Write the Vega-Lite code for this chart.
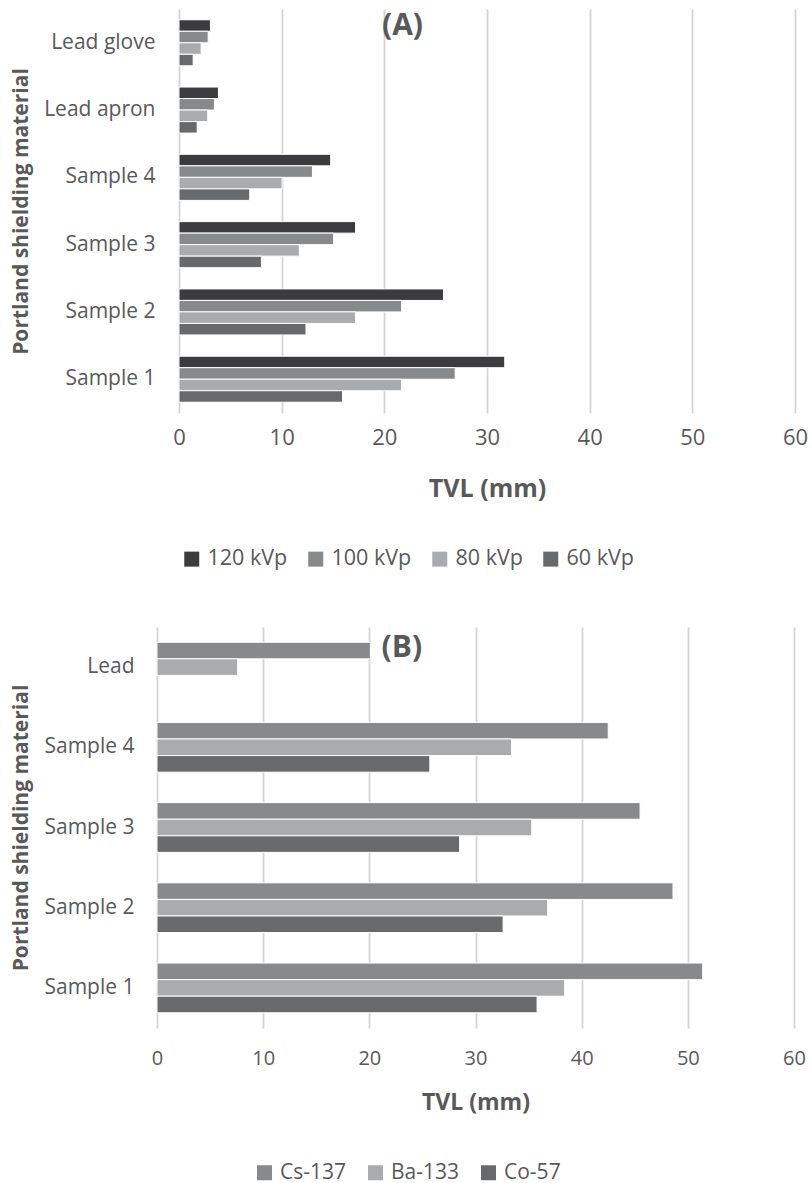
{
  "$schema": "https://vega.github.io/schema/vega-lite/v6.json",
  "background": "white",
  "padding": {"left": 9, "top": 9, "right": 5, "bottom": 30},
  "config": {
    "view": {"stroke": null},
    "font": "Open Sans",
    "axis": {"labelColor": "#595959", "titleColor": "#595959", "labelFont": "Open Sans", "titleFont": "Open Sans"},
    "legend": {"labelFont": "Open Sans", "labelColor": "#595959"}
  },
  "spacing": 57,
  "resolve": {
    "scale": {"color": "independent", "yOffset": "independent", "x": "independent", "y": "independent"},
    "legend": {"color": "independent"}
  },
  "vconcat": [
    {"hconcat": [
      {"width": 1, "height": 1, "data": {"values": []}, "mark": {"type": "point", "opacity": 0}, "encoding": {}},
      {
        "width": 616,
        "height": 404,
        "layer": [
          {
            "data": {"values": [
              {"material": "Lead glove", "energy": "120 kVp", "tvl": 3.06},
              {"material": "Lead glove", "energy": "100 kVp", "tvl": 2.84},
              {"material": "Lead glove", "energy": "80 kVp", "tvl": 2.16},
              {"material": "Lead glove", "energy": "60 kVp", "tvl": 1.38},
              {"material": "Lead apron", "energy": "120 kVp", "tvl": 3.84},
              {"material": "Lead apron", "energy": "100 kVp", "tvl": 3.45},
              {"material": "Lead apron", "energy": "80 kVp", "tvl": 2.8},
              {"material": "Lead apron", "energy": "60 kVp", "tvl": 1.77},
              {"material": "Sample 4", "energy": "120 kVp", "tvl": 14.77},
              {"material": "Sample 4", "energy": "100 kVp", "tvl": 13.0},
              {"material": "Sample 4", "energy": "80 kVp", "tvl": 10.04},
              {"material": "Sample 4", "energy": "60 kVp", "tvl": 6.89},
              {"material": "Sample 3", "energy": "120 kVp", "tvl": 17.2},
              {"material": "Sample 3", "energy": "100 kVp", "tvl": 15.06},
              {"material": "Sample 3", "energy": "80 kVp", "tvl": 11.72},
              {"material": "Sample 3", "energy": "60 kVp", "tvl": 8.03},
              {"material": "Sample 2", "energy": "120 kVp", "tvl": 25.76},
              {"material": "Sample 2", "energy": "100 kVp", "tvl": 21.67},
              {"material": "Sample 2", "energy": "80 kVp", "tvl": 17.2},
              {"material": "Sample 2", "energy": "60 kVp", "tvl": 12.37},
              {"material": "Sample 1", "energy": "120 kVp", "tvl": 31.73},
              {"material": "Sample 1", "energy": "100 kVp", "tvl": 26.9},
              {"material": "Sample 1", "energy": "80 kVp", "tvl": 21.67},
              {"material": "Sample 1", "energy": "60 kVp", "tvl": 15.93}
            ]},
            "mark": {"type": "bar", "stroke": "white", "strokeWidth": 1},
            "encoding": {
              "y": {
                "field": "material", "type": "nominal",
                "sort": ["Lead glove", "Lead apron", "Sample 4", "Sample 3", "Sample 2", "Sample 1"],
                "scale": {"paddingInner": 0.316, "paddingOuter": 0.16},
                "axis": {"title": "Portland shielding material", "titleFontSize": 21, "titleFontWeight": "bold", "titlePadding": 12, "labelFontSize": 21, "labelPadding": 24, "ticks": false, "domain": false, "grid": false}
              },
              "yOffset": {
                "field": "energy", "type": "nominal",
                "sort": ["120 kVp", "100 kVp", "80 kVp", "60 kVp"],
                "scale": {"domain": ["120 kVp", "100 kVp", "80 kVp", "60 kVp"], "paddingInner": 0, "paddingOuter": 0}
              },
              "x": {
                "field": "tvl", "type": "quantitative",
                "scale": {"domain": [0, 60], "nice": false},
                "axis": {"values": [0, 10, 20, 30, 40, 50, 60], "title": "TVL (mm)", "titleFontSize": 25, "titleFontWeight": "bold", "titlePadding": 28, "labelFontSize": 22, "labelPadding": 14, "labelFlush": false, "labelOverlap": false, "ticks": false, "domain": false, "grid": true, "gridColor": "#d4d4d4", "gridWidth": 1.8}
              },
              "color": {
                "field": "energy", "type": "nominal",
                "scale": {"domain": ["120 kVp", "100 kVp", "80 kVp", "60 kVp"], "range": ["#3c3c3e", "#88898b", "#aaabad", "#68696b"]},
                "legend": {"orient": "none", "legendX": 172, "legendY": 539, "direction": "horizontal", "title": null, "symbolType": "square", "symbolSize": 225, "symbolStrokeWidth": 0, "labelFontSize": 21.5, "labelOffset": 5, "columnPadding": 17, "padding": 0}
              }
            }
          },
          {
            "data": {"values": [{"panel": "(A)"}]},
            "mark": {"type": "text", "fontSize": 30, "fontWeight": "bold", "color": "#595959", "font": "Open Sans", "align": "center", "baseline": "middle"},
            "encoding": {
              "text": {"field": "panel", "type": "nominal"},
              "x": {"datum": 21.77, "type": "quantitative"},
              "y": {"datum": "Lead glove", "type": "nominal"},
              "yOffset": {"datum": "120 kVp", "type": "nominal"}
            }
          }
        ]
      }
    ], "spacing": 0},
    {"hconcat": [
      {"width": 1, "height": 1, "data": {"values": []}, "mark": {"type": "point", "opacity": 0}, "encoding": {}},
      {
        "width": 637,
        "height": 401,
        "layer": [
          {
            "data": {"values": [
              {"material": "Lead", "source": "Cs-137", "tvl": 20.1},
              {"material": "Lead", "source": "Ba-133", "tvl": 7.6},
              {"material": "Sample 4", "source": "Cs-137", "tvl": 42.5},
              {"material": "Sample 4", "source": "Ba-133", "tvl": 33.4},
              {"material": "Sample 4", "source": "Co-57", "tvl": 25.7},
              {"material": "Sample 3", "source": "Cs-137", "tvl": 45.5},
              {"material": "Sample 3", "source": "Ba-133", "tvl": 35.3},
              {"material": "Sample 3", "source": "Co-57", "tvl": 28.5},
              {"material": "Sample 2", "source": "Cs-137", "tvl": 48.6},
              {"material": "Sample 2", "source": "Ba-133", "tvl": 36.8},
              {"material": "Sample 2", "source": "Co-57", "tvl": 32.6},
              {"material": "Sample 1", "source": "Cs-137", "tvl": 51.4},
              {"material": "Sample 1", "source": "Ba-133", "tvl": 38.4},
              {"material": "Sample 1", "source": "Co-57", "tvl": 35.8}
            ]},
            "mark": {"type": "bar", "stroke": "white", "strokeWidth": 1},
            "encoding": {
              "y": {
                "field": "material", "type": "nominal",
                "sort": ["Lead", "Sample 4", "Sample 3", "Sample 2", "Sample 1"],
                "scale": {"paddingInner": 0.38, "paddingOuter": 0.19},
                "axis": {"title": "Portland shielding material", "titleFontSize": 21, "titleFontWeight": "bold", "titlePadding": 12, "labelFontSize": 21, "labelPadding": 23, "ticks": false, "domain": false, "grid": false}
              },
              "yOffset": {
                "field": "source", "type": "nominal",
                "sort": ["Cs-137", "Ba-133", "Co-57"],
                "scale": {"domain": ["Cs-137", "Ba-133", "Co-57"], "paddingInner": 0, "paddingOuter": 0}
              },
              "x": {
                "field": "tvl", "type": "quantitative",
                "scale": {"domain": [0, 60], "nice": false},
                "axis": {"values": [0, 10, 20, 30, 40, 50, 60], "title": "TVL (mm)", "titleFontSize": 23, "titleFontWeight": "bold", "titlePadding": 23, "labelFontSize": 20, "labelPadding": 20, "labelFlush": false, "labelOverlap": false, "ticks": false, "domain": false, "grid": true, "gridColor": "#d4d4d4", "gridWidth": 1.8}
              },
              "color": {
                "field": "source", "type": "nominal",
                "scale": {"domain": ["Cs-137", "Ba-133", "Co-57"], "range": ["#88898b", "#aaabad", "#68696b"]},
                "legend": {"orient": "none", "legendX": 245, "legendY": 535, "direction": "horizontal", "title": null, "symbolType": "square", "symbolSize": 225, "symbolStrokeWidth": 0, "labelFontSize": 21, "labelOffset": 5, "columnPadding": 18, "padding": 0}
              }
            }
          },
          {
            "data": {"values": [{"panel": "(B)"}]},
            "mark": {"type": "text", "fontSize": 30, "fontWeight": "bold", "color": "#595959", "font": "Open Sans", "align": "center", "baseline": "middle", "dy": -3},
            "encoding": {
              "text": {"field": "panel", "type": "nominal"},
              "x": {"datum": 23.06, "type": "quantitative"},
              "y": {"datum": "Lead", "type": "nominal"},
              "yOffset": {"datum": "Cs-137", "type": "nominal"}
            }
          }
        ]
      }
    ], "spacing": 0}
  ]
}
